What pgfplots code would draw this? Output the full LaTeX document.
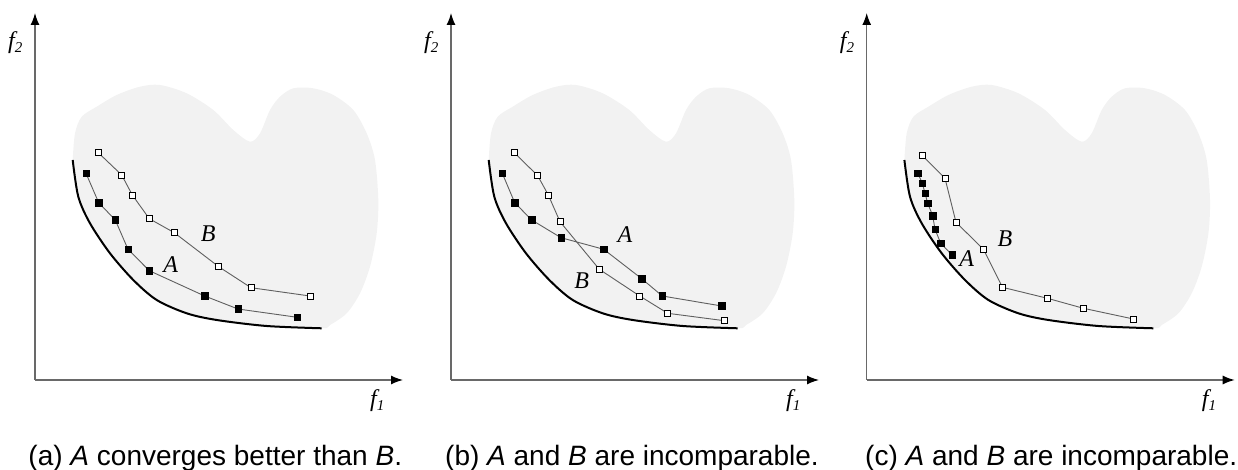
\documentclass[border=0pt]{standalone}
\usepackage{pgfplots}
\pgfplotsset{compat=1.18}
\usepackage{pgfplotstable}
\usepackage{fontspec}
\setmainfont{Liberation Sans}
\newfontfamily\tnr{Liberation Serif}
\usetikzlibrary{arrows.meta}

\definecolor{regionfill}{RGB}{242,242,242}
\definecolor{axisgray}{RGB}{105,105,105}
\definecolor{linkgray}{RGB}{95,95,95}

% feasible objective region (outline, closed along the Pareto front)
\pgfplotstableread{
x y
37.7 220
40 246.7
46.7 263.3
61.7 273.3
81.7 285
105 293.3
125 295
151.7 286.7
178.3 270
198.3 250
215 238.3
225 246.7
235 270
245 283.3
258.3 291.7
278.3 291.7
298.3 285
318.3 270
331.7 246.7
340 220
343.3 180
341.7 146.7
335 113.3
325 86.7
311.7 66.7
295 55
286.7 51.7
231.7 54
181.7 60
151.7 66.7
121.7 80
98.3 100
75 126.7
55 156.7
43.3 183.3
37.7 220
}\regiontab

% true Pareto front
\pgfplotstableread{
x y
37.7 220
43.3 183.3
55 156.7
75 126.7
98.3 100
121.7 80
151.7 66.7
181.7 60
231.7 54
286.7 51.7
}\fronttab

% panel (a)
\pgfplotstableread{
x y
51 206.7
63.7 177.3
80.3 160
93 130.7
114.3 109.3
169.7 84
203 71
262.3 62.7
}\Aa
\pgfplotstableread{
x y
63.3 227.3
86.7 205
97.3 185
114.3 161.3
139.3 147.3
183.7 113.3
216 92.3
275 84
}\Ba

% panel (b)
\pgfplotstableread{
x y
51.3 206.7
63.7 177.3
80.7 160
110 142.3
152.7 130.7
190.7 101.3
211.3 84
270.7 74
}\Ab
\pgfplotstableread{
x y
63.3 227.3
86.7 204.3
97.3 185
109 158.3
148.3 110.7
188.7 84
216.7 66.7
273.3 59.3
}\Bb

% panel (c)
\pgfplotstableread{
x y
51 206.7
55.7 196.7
58.3 186.7
61 176.7
66 164.3
68.3 150.7
74 136.7
85.3 125
}\Ac
\pgfplotstableread{
x y
55.7 224.3
78.3 201.7
89.3 157.7
116.7 130.7
135.7 92.7
180.7 81.7
216.7 71.7
266.7 61
}\Bc

\newcommand{\setlbl}{\tnr\itshape\fontsize{24}{26}\selectfont}
\newcommand{\capfont}{\fontsize{28}{32}\selectfont}

\pgfplotsset{
  panel/.style={
    x=1pt, y=1pt,
    xmin=0, xmax=368, ymin=0, ymax=367,
    enlargelimits=false,
    axis lines=left,
    xtick=\empty, ytick=\empty,
    axis line style={draw=axisgray, line width=1.3pt,
      -{Latex[length=12pt,width=9pt,black]}},
    clip=false,
    anchor=south west,
  },
  region/.style={draw=none, fill=regionfill, smooth},
  front/.style={black, line width=2pt, smooth},
  setA/.style={linkgray, line width=0.9pt, mark=square*, mark size=3.2pt,
    mark options={solid, fill=black, draw=black, line width=0.6pt}},
  setB/.style={linkgray, line width=0.9pt, mark=square*, mark size=3pt,
    mark options={solid, fill=white, draw=black, line width=0.9pt}},
}

\newcommand{\axislabels}{%
  \node[anchor=base west, inner sep=0pt] at (axis cs:-27,331)
    {\setlbl f\raisebox{-4pt}{\fontsize{15}{15}\selectfont 2}};
  \node[anchor=base west, inner sep=0pt] at (axis cs:335,-27)
    {\setlbl f\raisebox{-4pt}{\fontsize{15}{15}\selectfont 1}};
}

\begin{document}
\begin{tikzpicture}
\path[use as bounding box] (0pt,0pt) rectangle (1238pt,470pt);

% (a)
\begin{axis}[panel, at={(35pt,90pt)}]
  \addplot[region] table {\regiontab};
  \addplot[front] table {\fronttab};
  \addplot[setB] table {\Ba};
  \addplot[setA] table {\Aa};
  \node[inner sep=0pt] at (axis cs:173.3,146.7) {\setlbl B};
  \node[inner sep=0pt] at (axis cs:135.7,115) {\setlbl A};
  \axislabels
  \node[anchor=base west, inner sep=0pt] at (axis cs:-6.7,-86)
    {\capfont (a) \textit{A} converges better than \textit{B}.};
\end{axis}

% (b)
\begin{axis}[panel, at={(451pt,90pt)}]
  \addplot[region] table {\regiontab};
  \addplot[front] table {\fronttab};
  \addplot[setB] table {\Bb};
  \addplot[setA] table {\Ab};
  \node[inner sep=0pt] at (axis cs:174,145) {\setlbl A};
  \node[inner sep=0pt] at (axis cs:130.7,99.3) {\setlbl B};
  \axislabels
  \node[anchor=base west, inner sep=0pt] at (axis cs:-6,-86)
    {\capfont (b) \textit{A} and \textit{B} are incomparable.};
\end{axis}

% (c)
\begin{axis}[panel, at={(866.7pt,90pt)}]
  \addplot[region] table {\regiontab};
  \addplot[front] table {\fronttab};
  \addplot[setB] table {\Bc};
  \addplot[setA] table {\Ac};
  \node[inner sep=0pt] at (axis cs:138.3,141.7) {\setlbl B};
  \node[inner sep=0pt] at (axis cs:100,121.7) {\setlbl A};
  \axislabels
  \node[anchor=base west, inner sep=0pt] at (axis cs:-1.7,-86)
    {\capfont (c) \textit{A} and \textit{B} are incomparable.};
\end{axis}
\end{tikzpicture}
\end{document}
